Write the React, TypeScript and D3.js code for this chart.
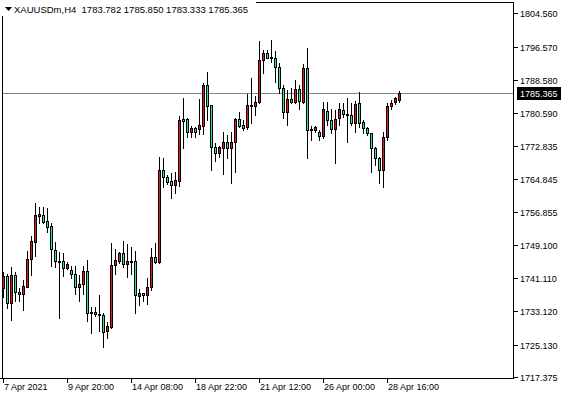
import React from "react";
import * as d3 from "d3";

const W = 564;
const H = 399;

const opens = [
  1738.63, 1741.59, 1735.04, 1741.83, 1737.75, 1737.2, 1739.03, 1745.59, 1749.82, 1756.05,
  1756.21, 1754.77, 1753.58, 1747.82, 1745.19, 1745.19, 1743.43, 1743.03, 1742.07, 1739.03,
  1739.59, 1742.79, 1732.64, 1732.96, 1732.48, 1732.24, 1728.4, 1729.45, 1744.15, 1745.27,
  1747.02, 1744.39, 1745.19, 1745.19, 1736.88, 1737.44, 1736.96, 1738.87, 1746.07, 1745.03,
  1767.0, 1765.4, 1764.28, 1763.48, 1764.44, 1779.22, 1779.14, 1776.19, 1776.99, 1776.9,
  1777.55, 1787.37, 1782.5, 1772.43, 1771.15, 1772.19, 1773.63, 1772.19, 1773.63, 1779.23,
  1777.79, 1777.31, 1782.26, 1782.26, 1783.22, 1793.37, 1794.96, 1793.76, 1793.93, 1791.61,
  1786.57, 1780.98, 1783.94, 1783.3, 1786.4, 1783.22, 1791.53, 1776.75, 1776.59, 1776.19,
  1775.15, 1781.22, 1778.98, 1776.75, 1779.38, 1781.38, 1780.42, 1780.18, 1778.35, 1782.98,
  1778.43, 1776.99, 1775.79, 1772.19, 1769.8, 1767.0, 1774.83, 1782.34, 1783.38, 1783.782,
];
const highs = [
  1742.63, 1741.99, 1743.83, 1742.63, 1738.63, 1740.63, 1747.58, 1751.26, 1759.01, 1758.05,
  1758.05, 1757.81, 1754.21, 1749.82, 1747.42, 1747.18, 1744.87, 1744.07, 1744.07, 1741.83,
  1744.07, 1745.43, 1734.24, 1734.08, 1737.03, 1732.8, 1730.6, 1749.42, 1747.98, 1747.42,
  1750.06, 1749.18, 1748.62, 1747.58, 1738.4, 1737.44, 1741.19, 1748.3, 1749.42, 1770.2,
  1769.8, 1765.8, 1766.36, 1766.6, 1779.94, 1784.18, 1779.38, 1777.55, 1777.4, 1783.9,
  1787.77, 1790.41, 1782.5, 1773.39, 1772.75, 1776.03, 1775.39, 1776.19, 1779.38, 1780.98,
  1778.98, 1785.14, 1788.97, 1784.82, 1798.0, 1795.76, 1795.76, 1798.16, 1795.52, 1792.57,
  1787.37, 1786.17, 1786.57, 1788.5, 1787.45, 1792.33, 1796.16, 1777.55, 1777.55, 1776.59,
  1783.38, 1783.38, 1781.54, 1781.38, 1782.98, 1782.98, 1784.18, 1782.98, 1783.62, 1785.78,
  1778.98, 1777.39, 1775.79, 1772.59, 1770.2, 1776.19, 1782.98, 1783.78, 1784.42, 1785.85,
];
const lows = [
  1736.64, 1733.99, 1731.04, 1735.6, 1735.6, 1733.44, 1738.9, 1741.83, 1746.46, 1754.21,
  1754.29, 1752.22, 1744.07, 1743.83, 1731.6, 1741.67, 1743.27, 1741.03, 1737.2, 1735.6,
  1737.2, 1730.8, 1727.85, 1732.08, 1728.41, 1724.6, 1726.8, 1729.05, 1742.07, 1744.63,
  1743.83, 1741.27, 1741.99, 1732.8, 1734.56, 1735.68, 1734.8, 1738.23, 1744.63, 1744.8,
  1763.0, 1763.64, 1760.2, 1761.4, 1763.16, 1772.19, 1774.99, 1774.99, 1775.0, 1775.6,
  1775.6, 1778.98, 1767.0, 1769.16, 1770.2, 1765.96, 1769.95, 1763.96, 1766.6, 1777.23,
  1776.59, 1776.75, 1778.18, 1780.18, 1783.0, 1790.17, 1793.76, 1792.97, 1788.17, 1785.38,
  1779.38, 1777.79, 1782.98, 1782.98, 1781.6, 1782.98, 1769.8, 1774.19, 1776.19, 1774.19,
  1774.59, 1777.79, 1775.79, 1768.76, 1777.79, 1779.78, 1773.79, 1777.79, 1776.19, 1777.39,
  1775.95, 1775.39, 1766.6, 1768.2, 1763.8, 1762.84, 1774.19, 1781.54, 1782.82, 1783.333,
];
const closes = [
  1741.67, 1735.04, 1741.83, 1737.83, 1737.2, 1739.27, 1745.59, 1749.98, 1756.21, 1756.45,
  1754.45, 1753.42, 1747.98, 1745.19, 1745.03, 1743.43, 1744.47, 1741.99, 1739.03, 1739.67,
  1742.79, 1732.64, 1732.96, 1732.4, 1732.24, 1728.17, 1729.6, 1744.23, 1745.43, 1747.02,
  1744.39, 1745.19, 1745.03, 1736.96, 1737.44, 1736.96, 1738.87, 1746.07, 1745.03, 1767.0,
  1765.24, 1764.2, 1763.48, 1764.6, 1778.98, 1778.82, 1776.19, 1776.99, 1776.0, 1777.7,
  1787.37, 1782.34, 1772.59, 1771.15, 1772.43, 1773.63, 1772.19, 1773.63, 1779.23, 1777.63,
  1777.15, 1782.58, 1782.58, 1783.38, 1793.37, 1794.96, 1793.93, 1794.08, 1791.61, 1786.57,
  1780.98, 1783.94, 1783.38, 1786.5, 1783.46, 1791.53, 1776.59, 1776.59, 1777.39, 1775.15,
  1781.54, 1778.98, 1776.91, 1779.14, 1781.54, 1780.34, 1780.26, 1778.35, 1782.82, 1778.35,
  1776.99, 1775.79, 1772.19, 1769.8, 1767.0, 1774.83, 1782.34, 1783.14, 1784.18, 1785.365,
];

const priceTicks = [
  1804.56, 1796.57, 1788.58, 1780.59, 1772.835, 1764.845, 1756.855, 1749.1, 1741.11, 1733.12,
  1725.13, 1717.375,
];
const timeTickIndex = [0, 16, 32, 48, 64, 80, 96];
const timeTickLabels = [
  "7 Apr 2021",
  "9 Apr 20:00",
  "14 Apr 08:00",
  "18 Apr 22:00",
  "21 Apr 12:00",
  "26 Apr 00:00",
  "28 Apr 16:00",
];
const symbolTitle = "XAUUSDm,H4";
const lastBid = 1785.365;

const BULL = "#E3171E";
const BEAR = "#2DE3A3";
const FONT = "'Liberation Sans', Arial, sans-serif";

export default function App() {
  const left = 2;
  const top = 2;
  const right = 513;
  const bottom = 378;

  const x = d3.scaleLinear().domain([0, opens.length - 1]).range([3, 3 + 4 * (opens.length - 1)]);
  const y = d3.scaleLinear().domain([1717.375, 1804.56]).range([377, 13.3]);
  const py = (v: number) => Math.round(y(v));

  const header = `${symbolTitle}  ${opens[opens.length - 1].toFixed(3)} ${highs[highs.length - 1].toFixed(3)} ${lows[lows.length - 1].toFixed(3)} ${closes[closes.length - 1].toFixed(3)}`;
  const bidY = py(lastBid);

  return (
    <svg
      width={W}
      height={H}
      style={{ position: "absolute", left: 0, top: 0, background: "#fff" }}
      shapeRendering="crispEdges"
    >
      <rect x={0} y={0} width={W} height={H} fill="#fff" />
      {/* frame */}
      <line x1={left + 0.5} y1={top} x2={left + 0.5} y2={bottom + 1} stroke="#000" />
      <line x1={left} y1={top + 0.5} x2={right + 1} y2={top + 0.5} stroke="#000" />
      <line x1={right + 0.5} y1={top} x2={right + 0.5} y2={bottom + 1} stroke="#000" />
      <line x1={0} y1={bottom + 0.5} x2={right + 1} y2={bottom + 0.5} stroke="#000" />

      {/* price line */}
      <line x1={left + 1} y1={bidY + 0.5} x2={right} y2={bidY + 0.5} stroke="#778899" />

      {/* candles */}
      {opens.map((o, i) => {
        const c = Math.round(x(i));
        const cl = closes[i];
        const up = cl > o;
        const yh = py(highs[i]);
        const yl = py(lows[i]);
        const yTop = py(Math.max(o, cl));
        const yBot = py(Math.min(o, cl));
        const h = yBot - yTop;
        return (
          <g key={i}>
            <line x1={c + 0.5} y1={yh} x2={c + 0.5} y2={yl + 1} stroke="#000" />
            {h >= 1 ? (
              <rect
                x={c - 0.5}
                y={yTop + 0.5}
                width={2}
                height={h}
                fill={up ? BULL : BEAR}
                stroke="#000"
              />
            ) : (
              <line x1={c - 1} y1={yTop + 0.5} x2={c + 2} y2={yTop + 0.5} stroke="#000" />
            )}
          </g>
        );
      })}

      {/* header */}
      <rect x={left + 1} y={top + 1} width={252} height={13} fill="#fff" />
      <line x1={left + 0.5} y1={top} x2={left + 0.5} y2={16} stroke="#fff" />
      <line x1={left} y1={top + 0.5} x2={256} y2={top + 0.5} stroke="#fff" />
      <polygon points="5,7 12,7 8.5,11" fill="#000" shapeRendering="auto" />
      <text
        x={14}
        y={12.5}
        fontFamily={FONT}
        fontSize={9.5}
        fill="#000"
        style={{ whiteSpace: "pre" }}
        shapeRendering="auto"
      >
        {header}
      </text>

      {/* price axis */}
      {priceTicks.map((v) => {
        const ty = py(v);
        return (
          <g key={v}>
            <line x1={right + 1} y1={ty + 0.5} x2={right + 5} y2={ty + 0.5} stroke="#000" />
            <text
              x={520}
              y={ty + 3.5}
              fontFamily={FONT}
              fontSize={9}
              fill="#000"
            >
              {v.toFixed(3)}
            </text>
          </g>
        );
      })}
      <rect x={517} y={bidY - 6} width={44} height={13} fill="#000" />
      <text x={520} y={bidY + 3.5} fontFamily={FONT} fontSize={9} fill="#fff">
        {lastBid.toFixed(3)}
      </text>

      {/* time axis */}
      {timeTickIndex.map((k, j) => {
        const tx = Math.round(x(k));
        return (
          <g key={k}>
            <line x1={tx + 0.5} y1={bottom + 1} x2={tx + 0.5} y2={bottom + 5} stroke="#000" />
            <text x={tx + 1} y={390} fontFamily={FONT} fontSize={9} fill="#000">
              {timeTickLabels[j]}
            </text>
          </g>
        );
      })}
    </svg>
  );
}
